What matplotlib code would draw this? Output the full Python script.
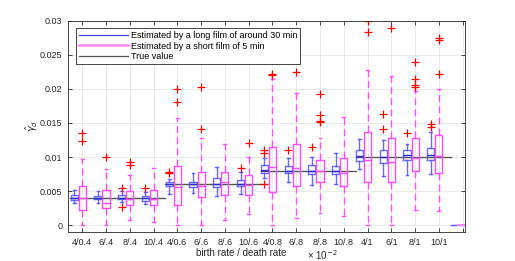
import numpy as np
import matplotlib
matplotlib.use('Agg')
import matplotlib.pyplot as plt
from matplotlib.lines import Line2D

plt.rcParams['font.family'] = ['Liberation Sans', 'DejaVu Sans']

# Etiquetas de los grupos (tasa de nacimiento / tasa de muerte)
group_labels = ['4/0.4', '6/.4', '8/.4', '10/.4', '4/0.6', '6/.6', '8/.6', '10/.6',
                '4/0.8', '6/.8', '8/.8', '10/.8', '4/1', '6/1', '8/1', '10/1']

# Valor verdadero por bloque de 4 grupos
true_values = [0.004, 0.006, 0.008, 0.010]

# Película larga (~30 min): whislo, q1, med, q3, whishi
long_whislo = [0.0033, 0.0033, 0.0034, 0.0031, 0.0046, 0.0047, 0.0043, 0.0046,
               0.0069, 0.0063, 0.0059, 0.0060, 0.0083, 0.0072, 0.0074, 0.0075]
long_q1 = [0.0037, 0.0038, 0.0038, 0.0036, 0.0057, 0.0056, 0.0056, 0.0057,
           0.0077, 0.0076, 0.0075, 0.0075, 0.0094, 0.0091, 0.0095, 0.0095]
long_med = [0.0040, 0.0040, 0.0040, 0.0040, 0.0060, 0.0060, 0.0061, 0.0060,
            0.0081, 0.0080, 0.0080, 0.0080, 0.0102, 0.0100, 0.0103, 0.0103]
long_q3 = [0.0044, 0.0043, 0.0044, 0.0043, 0.0064, 0.0064, 0.0069, 0.0066,
           0.0088, 0.0087, 0.0089, 0.0087, 0.0111, 0.0110, 0.0110, 0.0113]
long_whishi = [0.0052, 0.0050, 0.0050, 0.0049, 0.0068, 0.0077, 0.0086, 0.0078,
               0.0098, 0.0099, 0.0100, 0.0106, 0.0126, 0.0125, 0.0119, 0.0137]
long_fliers = [[], [], [0.0054, 0.0026], [0.0055], [0.0078, 0.0076], [], [], [0.0084],
               [0.0110, 0.0106, 0.0061], [0.0111], [0.0114], [], [],
               [0.0163, 0.0141], [0.0135], [0.0148, 0.0144]]

# Película corta (5 min)
short_whislo = [0.0, 0.0, 0.0008, 0.0005, 0.0, 0.0, 0.0007, 0.0016,
                0.0, 0.0011, 0.0018, 0.0014, 0.0, 0.0, 0.0022, 0.0021]
short_q1 = [0.0022, 0.0025, 0.0029, 0.0030, 0.0030, 0.0042, 0.0045, 0.0045,
            0.0048, 0.0058, 0.0063, 0.0058, 0.0063, 0.0063, 0.0079, 0.0076]
short_med = [0.0040, 0.0033, 0.0038, 0.0038, 0.0056, 0.0058, 0.0063, 0.0059,
             0.0086, 0.0084, 0.0079, 0.0076, 0.0096, 0.0093, 0.0098, 0.0102]
short_q3 = [0.0058, 0.0052, 0.0050, 0.0051, 0.0087, 0.0078, 0.0078, 0.0074,
            0.0115, 0.0119, 0.0095, 0.0099, 0.0137, 0.0128, 0.0128, 0.0132]
short_whishi = [0.0097, 0.0083, 0.0073, 0.0084, 0.0157, 0.0128, 0.0119, 0.0100,
                0.0214, 0.0194, 0.0128, 0.0159, 0.0228, 0.0219, 0.0197, 0.0200]
short_fliers = [[0.0135, 0.0124], [0.0100], [0.0093, 0.0088], [], [0.0200, 0.0180],
                [0.0202, 0.0141], [], [0.0121], [0.0222, 0.0220], [0.0225],
                [0.0192, 0.0162, 0.0153, 0.0151], [], [0.0300, 0.0283], [0.0289],
                [0.0239, 0.0215, 0.0206, 0.0203], [0.0275, 0.0271, 0.0221]]


def make_stats(whislo, q1, med, q3, whishi, fliers):
    stats = []
    for i in range(len(med)):
        stats.append({'whislo': whislo[i], 'q1': q1[i], 'med': med[i], 'q3': q3[i],
                      'whishi': whishi[i], 'fliers': fliers[i]})
    return stats


n = len(group_labels)
pos_short = np.arange(1, n + 1)
pos_long = pos_short - 0.34

fig = plt.figure(figsize=(5.15, 2.61), dpi=100)
ax = fig.add_axes([0.132, 0.111, 0.771, 0.81])

blue = '#5050ff'
mag = '#ff4dff'
flier = dict(marker='+', markeredgecolor='red', markersize=5.5, markeredgewidth=0.9, linestyle='none')

ax.bxp(make_stats(long_whislo, long_q1, long_med, long_q3, long_whishi, long_fliers),
       positions=pos_long, widths=0.3, capwidths=0.12, manage_ticks=False,
       boxprops=dict(color=blue, linewidth=1.0, alpha=0.85),
       whiskerprops=dict(color=blue, linewidth=1.0, alpha=0.85),
       capprops=dict(color=blue, linewidth=1.0, alpha=0.85),
       medianprops=dict(color='#2a2ad0', linewidth=1.0),
       flierprops=flier)

ax.bxp(make_stats(short_whislo, short_q1, short_med, short_q3, short_whishi, short_fliers),
       positions=pos_short, widths=0.3, capwidths=0.12, manage_ticks=False,
       boxprops=dict(color=mag, linewidth=1.0),
       whiskerprops=dict(color=mag, linewidth=1.0, linestyle=(0, (5, 3))),
       capprops=dict(color=mag, linewidth=1.0),
       medianprops=dict(color=mag, linewidth=1.0),
       flierprops=flier)

# Líneas del valor verdadero
for k, tv in enumerate(true_values):
    ax.plot([0.5 + 4 * k, 4.5 + 4 * k], [tv, tv], color='#555555', linewidth=1.0, zorder=1)

# Líneas ficticias usadas para la leyenda
ax.plot([16.5, 17.5], [0, 0], color=blue, linewidth=1.0)
ax.plot([16.8, 17.5], [0, 0], color='#ff88ff', linewidth=1.5)

ax.set_xlim(0.4, 17.1)
ax.set_ylim(-0.001, 0.03)
ax.set_xticks(np.arange(1, n + 2))
ax.set_xticklabels(group_labels + [''])
ax.set_yticks([0, 0.005, 0.01, 0.015, 0.02, 0.025, 0.03])
ax.set_yticklabels(['0', '0.005', '0.01', '0.015', '0.02', '0.025', '0.03'])
ax.tick_params(direction='in', length=3, width=0.6, labelsize=6.5, colors='#262626',
               top=True, right=True, pad=4)
ax.grid(True, color='#e6e6e6', linewidth=0.6)
ax.set_axisbelow(True)
for s in ax.spines.values():
    s.set_color('#262626')
    s.set_linewidth(0.6)

ax.set_ylabel(r'$\hat{\gamma}_d$', fontsize=7, color='#262626', labelpad=0)
ax.set_xlabel('birth rate / death rate', fontsize=7, color='#262626')
ax.xaxis.set_label_coords(0.436, -0.075)
ax.text(0.64, -0.108, r'× 10$^{-2}$', transform=ax.transAxes, fontsize=7,
        color='#262626', ha='center', va='center')

handles = [Line2D([], [], color='#4040ff', linewidth=0.9),
           Line2D([], [], color='#ff88ff', linewidth=1.8),
           Line2D([], [], color='#555555', linewidth=0.9)]
leg = ax.legend(handles, ['Estimated by a long film of around 30 min',
                          'Estimated by a short film of 5 min', 'True value'],
                loc='upper left', bbox_to_anchor=(0.02, 0.965), fontsize=6.5,
                frameon=True, fancybox=False, framealpha=1, edgecolor='#262626',
                handlelength=5.5, handletextpad=0.3, borderpad=0.3, labelspacing=0.2,
                borderaxespad=0)
leg.get_frame().set_linewidth(0.6)

fig.savefig('out.png', dpi=100)
